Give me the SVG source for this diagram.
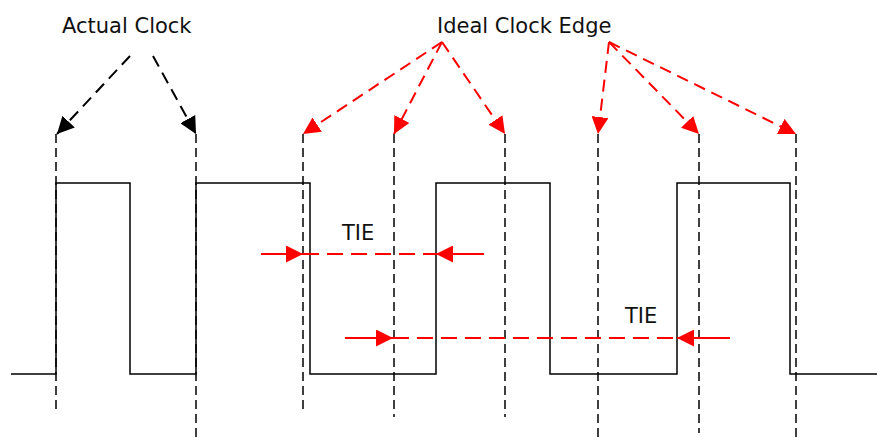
<svg xmlns="http://www.w3.org/2000/svg" width="877" height="443" viewBox="0 0 877 443">
<style>
  text { font-family: "DejaVu Sans", Verdana, sans-serif; font-size: 21px; fill: #111; }
  .wave { fill: none; stroke: #000; stroke-width: 1.5; }
  .guide { fill: none; stroke: #000; stroke-width: 1.5; stroke-dasharray: 9 5; }
  .blk { fill: none; stroke: #000; stroke-width: 2; stroke-dasharray: 12 7; }
  .red { fill: none; stroke: #f00; stroke-width: 2; stroke-dasharray: 12 7; }
  .redh { fill: none; stroke: #f00; stroke-width: 2; stroke-dasharray: 16 8; }
  .reds { fill: none; stroke: #f00; stroke-width: 2; }
</style>
<defs>
  <marker id="ab" viewBox="0 0 10 10" refX="10" refY="5" markerWidth="17" markerHeight="17" markerUnits="userSpaceOnUse" orient="auto">
    <path d="M0,0 L10,5 L0,10 Z" fill="#000"/>
  </marker>
  <marker id="ar" viewBox="0 0 10 10" refX="10" refY="5" markerWidth="17" markerHeight="17" markerUnits="userSpaceOnUse" orient="auto">
    <path d="M0,0 L10,5 L0,10 Z" fill="#f00"/>
  </marker>
</defs>
<g id="waveform">
  <path class="wave" d="M11,374 H56 V183 H130 V374 H196 V183 H310 V374 H436 V183 H550 V374 H677 V183 H790 V374 H877"/>
</g>
<g id="guides">
  <line class="guide" x1="56" y1="134" x2="56" y2="410"/>
  <line class="guide" x1="196" y1="134" x2="196" y2="440"/>
  <line class="guide" x1="303" y1="134" x2="303" y2="410"/>
  <line class="guide" x1="394" y1="134" x2="394" y2="417"/>
  <line class="guide" x1="505" y1="134" x2="505" y2="417"/>
  <line class="guide" x1="598" y1="134" x2="598" y2="442"/>
  <line class="guide" x1="699" y1="134" x2="699" y2="433"/>
  <line class="guide" x1="796" y1="134" x2="796" y2="440"/>
</g>
<g id="label-actual">
  <text x="62" y="33">Actual Clock</text>
</g>
<g id="label-ideal">
  <text x="437" y="33">Ideal Clock Edge</text>
</g>
<g id="label-tie1">
  <text x="342" y="240">TIE</text>
</g>
<g id="label-tie2">
  <text x="625" y="323">TIE</text>
</g>
<g id="connectors">
  <line class="blk" x1="130" y1="56" x2="57" y2="134" marker-end="url(#ab)"/>
  <line class="blk" x1="153" y1="56" x2="196" y2="134" marker-end="url(#ab)"/>
  <line class="red" x1="442" y1="42" x2="303" y2="134" marker-end="url(#ar)"/>
  <line class="red" x1="442" y1="42" x2="394" y2="134" marker-end="url(#ar)"/>
  <line class="red" x1="442" y1="42" x2="505" y2="134" marker-end="url(#ar)"/>
  <line class="red" x1="609" y1="42" x2="598" y2="134" marker-end="url(#ar)"/>
  <line class="red" x1="609" y1="42" x2="699" y2="134" marker-end="url(#ar)"/>
  <line class="red" x1="609" y1="42" x2="796" y2="134" marker-end="url(#ar)"/>
  <line class="reds" x1="261" y1="254" x2="303" y2="254" marker-end="url(#ar)"/>
  <line class="redh" x1="303" y1="254" x2="436" y2="254"/>
  <line class="reds" x1="484" y1="254" x2="436" y2="254" marker-end="url(#ar)"/>
  <line class="reds" x1="345" y1="338" x2="393" y2="338" marker-end="url(#ar)"/>
  <line class="redh" x1="393" y1="338" x2="677" y2="338"/>
  <line class="reds" x1="730" y1="338" x2="677" y2="338" marker-end="url(#ar)"/>
</g>
</svg>
